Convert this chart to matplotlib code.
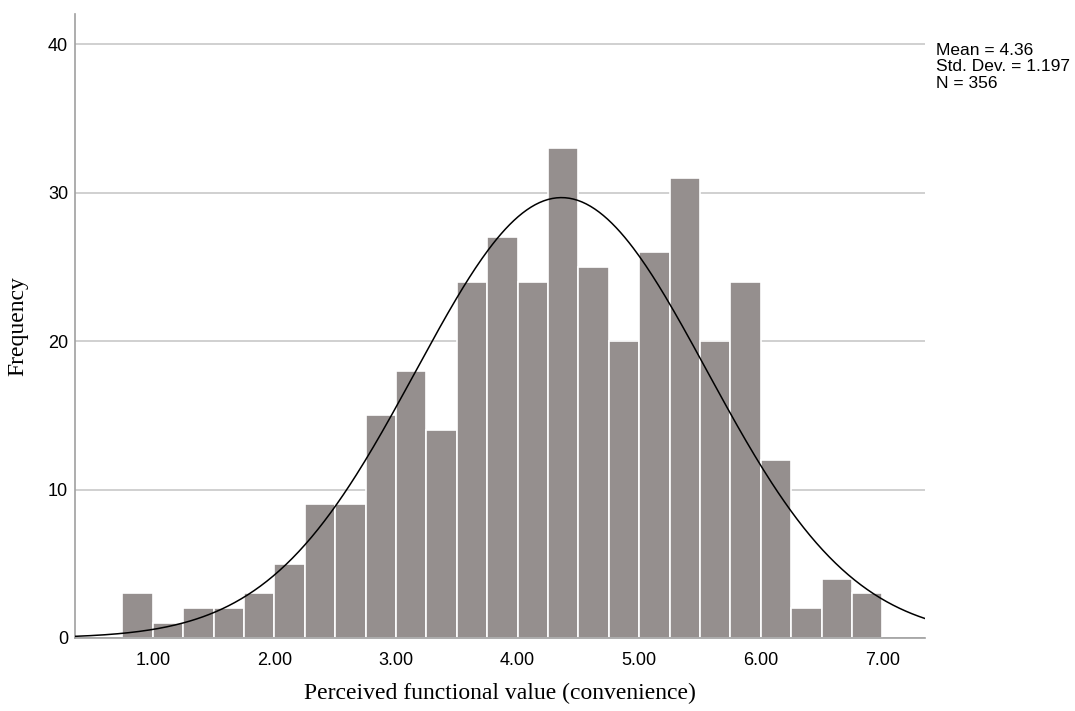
import numpy as np
import matplotlib
matplotlib.use("Agg")
import matplotlib.pyplot as plt

# histogram bins (width 0.25) and their counts
bin_left = [0.75, 1.00, 1.25, 1.50, 1.75, 2.00, 2.25, 2.50, 2.75, 3.00, 3.25, 3.50, 3.75,
            4.00, 4.25, 4.50, 4.75, 5.00, 5.25, 5.50, 5.75, 6.00, 6.25, 6.50, 6.75]
counts = [3, 1, 2, 2, 3, 5, 9, 9, 15, 18, 14, 24, 27,
          24, 33, 25, 20, 26, 31, 20, 24, 12, 2, 4, 3]
bin_width = 0.25
mean, sd, n = 4.36, 1.197, 356
xticks = [1, 2, 3, 4, 5, 6, 7]
yticks = [0, 10, 20, 30, 40]

fig = plt.figure(figsize=(10.75, 7.11), dpi=100)
ax = fig.add_axes([0.0698, 0.1027, 0.7907, 0.877])

ax.bar(bin_left, counts, width=bin_width, align='edge', color='#958f8e',
       edgecolor='white', linewidth=1.2, zorder=2)

# fitted normal curve scaled to counts per bin
xs = np.linspace(0.36, 7.35, 400)
ys = n * bin_width * np.exp(-0.5 * ((xs - mean) / sd) ** 2) / (sd * np.sqrt(2 * np.pi))
ax.plot(xs, ys, color='black', linewidth=1.1, zorder=3)

ax.set_xlim(0.36, 7.35)
ax.set_ylim(0, 42)
ax.set_xticks(xticks)
ax.set_xticklabels(['%.2f' % v for v in xticks], family='Liberation Sans', fontsize=13)
ax.set_yticks(yticks)
ax.set_yticklabels([str(v) for v in yticks], family='Liberation Sans', fontsize=13)
ax.tick_params(axis='x', length=0, pad=10)
ax.tick_params(axis='y', length=0, pad=5)
ax.yaxis.grid(True, color='#c8c8c8', linewidth=1.2, zorder=0)
ax.set_axisbelow(True)

for side in ['top', 'right']:
    ax.spines[side].set_visible(False)
for side in ['left', 'bottom']:
    ax.spines[side].set_color('#a0a0a0')
    ax.spines[side].set_linewidth(1.2)

ax.set_xlabel('Perceived functional value (convenience)', family='Liberation Serif',
              fontsize=17, labelpad=10)
ax.set_ylabel('Frequency', family='Liberation Serif', fontsize=17, labelpad=14)

fig.text(0.871, 0.94, 'Mean = %.2f\nStd. Dev. = %.3f\nN = %d' % (mean, sd, n),
         family='Liberation Sans', fontsize=12.5, va='top', linespacing=1.15)

plt.savefig('out.png', dpi=100)
plt.close()
